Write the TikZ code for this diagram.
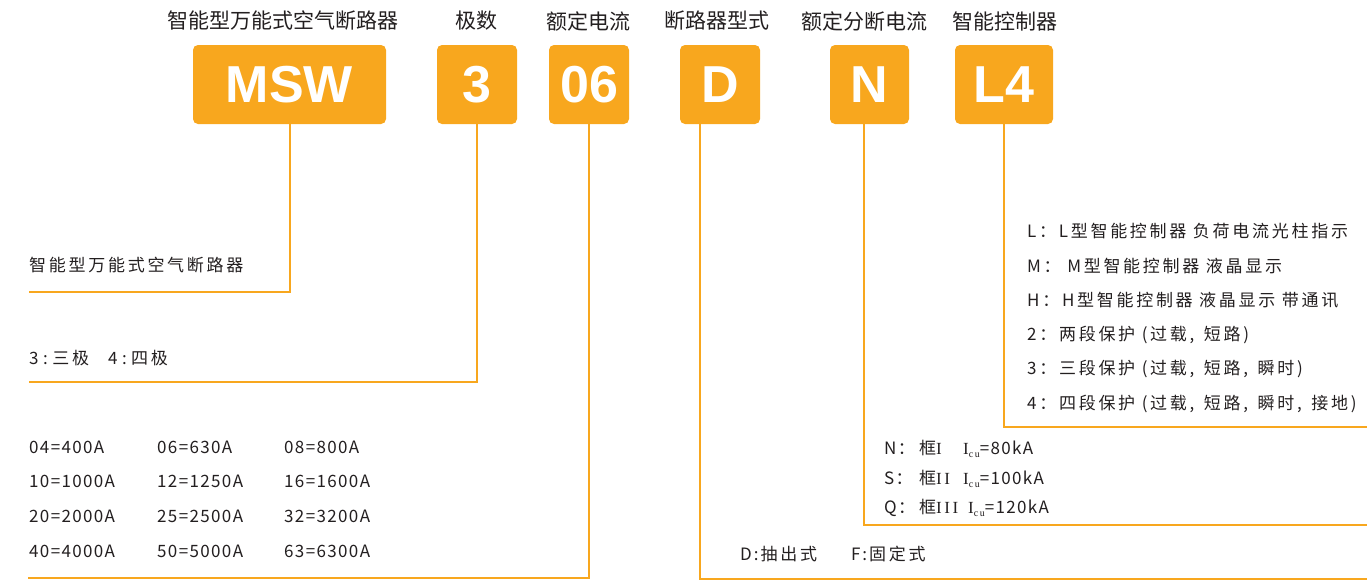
\documentclass[tikz,border=0pt]{standalone}
\usepackage{fontspec}
\setmainfont{Noto Sans CJK SC}
\newfontfamily\headfont{Noto Sans CJK SC}
\newfontfamily\descfont[LetterSpace=16]{Noto Sans CJK SC}
\newfontfamily\numfont[LetterSpace=8]{Noto Sans CJK SC}
\newfontfamily\codefont{Liberation Sans}
\newfontfamily\romfont[LetterSpace=15]{Liberation Serif}
\usetikzlibrary{calc}

\definecolor{boxorange}{RGB}{248,167,30}
\definecolor{textgray}{RGB}{35,31,32}

\newcommand{\Icu}{{\romfont\fontsize{17}{17}\selectfont I\raisebox{-3pt}{\fontsize{10}{10}\selectfont cu}}}
\newcommand{\frameno}[2]{\makebox[#1][l]{{\romfont\fontsize{17}{17}\selectfont #2}}}
\newcommand{\sep}{\hspace{4.5pt}:\hspace{4.5pt}}

\begin{document}
\begin{tikzpicture}[x=1pt, y=-1pt,
  code/.style={fill=boxorange, rounded corners=5pt, text=white, inner sep=0pt,
    minimum height=79pt, font=\codefont\bfseries\fontsize{52}{52}\selectfont},
  head/.style={text=textgray, inner sep=0pt, font=\headfont\fontsize{21}{21}\selectfont},
  desc/.style={anchor=west, text=textgray, inner sep=0pt, font=\descfont\fontsize{17}{20}\selectfont},
  nums/.style={desc, font=\numfont\fontsize{17}{20}\selectfont},
  lead/.style={draw=boxorange, line width=2pt}]
\useasboundingbox (0,0) rectangle (1367,581);

% headings
\node[head] (hmsw) at (283,21) {智能型万能式空气断路器};
\node[head] (hpole) at (476,21) {极数};
\node[head] (hamp) at (588,21) {额定电流};
\node[head] (hmount) at (717,21) {断路器型式};
\node[head] (hbrk) at (864,21) {额定分断电流};
\node[head] (hctrl) at (1005,21) {智能控制器};

% code boxes
\node[code, minimum width=193pt] (msw) at (289.5,84.5) {MSW};
\node[code, minimum width=80pt] (pole) at (477,84.5) {3};
\node[code, minimum width=80pt] (amp) at (589,84.5) {06};
\node[code, minimum width=80pt] (mount) at (720,84.5) {D};
\node[code, minimum width=79pt] (brk) at (869.5,84.5) {N};
\node[code, minimum width=98pt] (ctrl) at (1004,84.5) {L4};

% line ends
\coordinate (endmsw) at (29,292);
\coordinate (endpole) at (29,382);
\coordinate (endamp) at (28,578);
\coordinate (endmount) at (1367,579);
\coordinate (endbrk) at (1367,525);
\coordinate (endctrl) at (1367,427);

\draw[lead] (msw.south) |- (endmsw);
\draw[lead] (pole.south) |- (endpole);
\draw[lead] (amp.south) |- (endamp);
\draw[lead] ([xshift=-20pt]mount.south) |- (endmount);
\draw[lead] ([xshift=-5.5pt]brk.south) |- (endbrk);
\draw[lead] (ctrl.south) |- (endctrl);

% descriptions
\node[desc] (dmsw) at (29,265) {智能型万能式空气断路器};
\node[desc] (dpole) at (29,358) {3\sep 三极\hspace{19pt}4\sep 四极};
\foreach \a/\b/\c [count=\i] in {04=400A/06=630A/08=800A, 10=1000A/12=1250A/16=1600A,
    20=2000A/25=2500A/32=3200A, 40=4000A/50=5000A/63=6300A}
  \node[nums] (rate\i) at (29,{447+34.7*(\i-1)}) {\makebox[128pt][l]{\a}\makebox[127pt][l]{\b}\c};
\node[desc] (dmount) at (740,554) {D\hspace{2pt}:\hspace{2pt}抽出式\hspace{34pt}F\hspace{2pt}:\hspace{2pt}固定式};

\node[nums] (brk1) at (884,449) {\makebox[35pt][l]{N：}框\frameno{27pt}{I}\Icu=80kA};
\node[nums] (brk2) at (884,479) {\makebox[35pt][l]{S：}框\frameno{27pt}{II}\Icu=100kA};
\node[nums] (brk3) at (884,508) {\makebox[35pt][l]{Q：}框\frameno{32pt}{III}\Icu=120kA};

\foreach \t [count=\i] in {{L：L型智能控制器 负荷电流光柱指示}, {M： M型智能控制器 液晶显示},
    {H：H型智能控制器 液晶显示 带通讯}, {2：两段保护 (过载,\hspace{3pt} 短路)},
    {3：三段保护 (过载,\hspace{3pt} 短路,\hspace{3pt} 瞬时)},
    {4：四段保护 (过载,\hspace{3pt} 短路,\hspace{3pt} 瞬时,\hspace{3pt} 接地)}}
  \node[desc] (ctrl\i) at (1027,{231+34.6*(\i-1)}) {\t};
\end{tikzpicture}
\end{document}
